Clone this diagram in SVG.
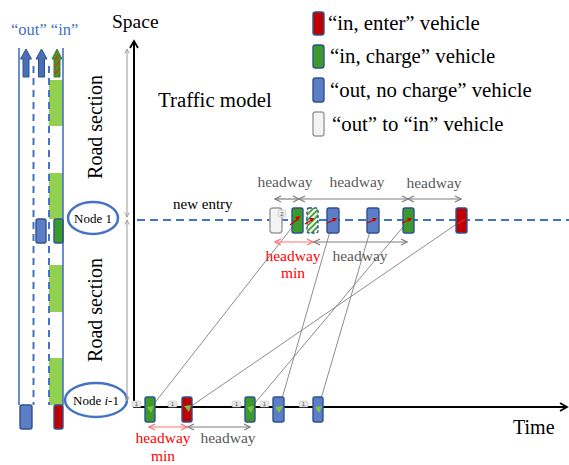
<svg xmlns="http://www.w3.org/2000/svg" width="569" height="465" viewBox="0 0 569 465">
<defs>
<style>
.t{font-family:"Liberation Serif","Times New Roman",serif;fill:#000}
.lane{stroke:#4472c4;stroke-width:1.6;fill:none}
.ldash{stroke:#4472c4;stroke-width:2;stroke-dasharray:7 5;fill:none}
.blk{fill:#92d050}
.veh{stroke:#2f528f;stroke-width:1.4}
.red{fill:#c00000}
.grn{fill:#3c9a2c}
.blu{fill:#5b7ec6}
.wht{fill:#f4f4f4;stroke:#9a9a9a;stroke-width:1.4}
.traj{stroke:#808080;stroke-width:0.9;fill:none}
.hw{stroke:#7f7f7f;stroke-width:1.2;fill:none;marker-start:url(#ag);marker-end:url(#ag)}
.hwr{stroke:#ff7070;stroke-width:1.2;fill:none;marker-start:url(#ar);marker-end:url(#ar)}
.gl{font-size:15.5px;fill:#595959}
.rl{font-size:15.5px;fill:#ff0000}
.tag{fill:#e8e8e8;stroke:#c0c0c0;stroke-width:0.5}
.tagt{font-family:"Liberation Sans",Arial,sans-serif;font-size:6px;fill:#555}
.node{fill:#fff;stroke:#4472c4;stroke-width:2.5}
.nt{font-size:13px}
.leg{font-size:20.8px}
.rm{stroke:#d00000;stroke-width:1.3;fill:none}
.gm{fill:#7cc242}
.arw{fill:#4a6fb5;stroke:#2f528f;stroke-width:1}
</style>
<marker id="ag" viewBox="0 0 8 8" refX="7" refY="4" markerWidth="8" markerHeight="8" markerUnits="userSpaceOnUse" orient="auto-start-reverse"><path d="M1,1 L7,4 L1,7" fill="none" stroke="#7f7f7f" stroke-width="1.2"/></marker>
<marker id="ar" viewBox="0 0 8 8" refX="7" refY="4" markerWidth="8" markerHeight="8" markerUnits="userSpaceOnUse" orient="auto-start-reverse"><path d="M1,1 L7,4 L1,7" fill="none" stroke="#ff7070" stroke-width="1.2"/></marker>
<marker id="ak" viewBox="0 0 10 10" refX="8" refY="5" markerWidth="10" markerHeight="10" markerUnits="userSpaceOnUse" orient="auto"><path d="M1,1 L8,5 L1,9" fill="none" stroke="#000" stroke-width="1.8"/></marker>
<marker id="agy" viewBox="0 0 8 8" refX="7" refY="4" markerWidth="6" markerHeight="6" markerUnits="userSpaceOnUse" orient="auto-start-reverse"><path d="M1,1 L7,4 L1,7" fill="none" stroke="#999" stroke-width="1.2"/></marker>
<pattern id="hatchR" patternUnits="userSpaceOnUse" width="5" height="5" patternTransform="rotate(45)"><rect width="5" height="5" fill="#3c9a2c"/><rect width="1.6" height="5" fill="#e03020"/></pattern>
<pattern id="hatchG" patternUnits="userSpaceOnUse" width="4" height="4" patternTransform="rotate(45)"><rect width="4" height="4" fill="#fff"/><rect width="2" height="4" fill="#4aa63a"/></pattern>
</defs>
<rect width="569" height="465" fill="#fff"/>

<!-- left road strip -->
<g id="road">
<text class="t" x="11" y="35" font-size="16.5" style="fill:#4472c4">“out” “in”</text>
<rect class="blk" x="49" y="80" width="14" height="46"/>
<rect class="blk" x="49" y="173" width="14" height="46"/>
<rect class="blk" x="49" y="265" width="14" height="47"/>
<rect class="blk" x="49" y="358" width="14" height="47"/>
<line class="lane" x1="19" y1="48" x2="19" y2="405"/>
<line class="lane" x1="63" y1="48" x2="63" y2="405"/>
<line class="ldash" x1="33.5" y1="66" x2="33.5" y2="405"/>
<line class="ldash" x1="49" y1="66" x2="49" y2="405"/>
<path class="arw" d="M26,49 L31.5,59 L29,59 L29,77 L23,77 L23,59 L20.5,59 Z"/>
<path class="arw" d="M41.5,49 L47,59 L44.5,59 L44.5,77 L38.5,77 L38.5,59 L36,59 Z"/>
<path d="M57,49 L62,59 L60,59 L60,77 L54,77 L54,59 L52,59 Z" fill="url(#hatchR)" stroke="#2e8a22" stroke-width="1"/>
<rect class="veh blu" x="36" y="219" width="10" height="24" rx="2"/>
<rect class="veh grn" x="54" y="219" width="9" height="24" rx="2"/>
<rect class="veh blu" x="20" y="405" width="12" height="24" rx="2"/>
<rect class="veh red" x="54" y="405" width="9" height="24" rx="2"/>
<text class="t" font-size="20" transform="translate(102,127) rotate(-90)" text-anchor="middle">Road section</text>
<text class="t" font-size="20" transform="translate(102,310) rotate(-90)" text-anchor="middle">Road section</text>
</g>

<g id="node1">
<ellipse class="node" cx="93" cy="218" rx="25" ry="16"/>
<text class="t nt" x="93" y="222.5" text-anchor="middle">Node 1</text>
</g>
<g id="nodei1">
<ellipse class="node" cx="96" cy="400" rx="31" ry="17"/>
<text class="t nt" x="96" y="404.5" text-anchor="middle">Node <tspan font-style="italic">i</tspan>-1</text>
</g>

<!-- axes -->
<g id="axes">
<line x1="127" y1="49" x2="127" y2="217" stroke="#999" stroke-width="1" marker-start="url(#agy)" marker-end="url(#agy)"/>
<line x1="127" y1="220" x2="127" y2="401" stroke="#999" stroke-width="1" marker-start="url(#agy)" marker-end="url(#agy)"/>
<line x1="134" y1="408" x2="134" y2="41" stroke="#000" stroke-width="2" marker-end="url(#ak)"/>
<line x1="133" y1="407" x2="567" y2="407" stroke="#000" stroke-width="2" marker-end="url(#ak)"/>
<text class="t" x="112" y="28" font-size="19.5">Space</text>
<text class="t" x="513" y="434" font-size="20">Time</text>
<text class="t" x="158" y="107" font-size="20.8">Traffic model</text>
<line x1="137" y1="220" x2="569" y2="220" stroke="#4472c4" stroke-width="2" stroke-dasharray="8 5"/>
<text class="t" x="173" y="209" font-size="15">new entry</text>
</g>

<!-- legend -->
<g id="legend">
<rect class="veh red" x="313" y="12" width="11" height="23" rx="2.5"/>
<text class="t leg" x="328" y="30">“in, enter” vehicle</text>
<rect class="veh grn" x="313" y="45" width="11" height="23" rx="2.5"/>
<text class="t leg" x="330" y="63">“in, charge” vehicle</text>
<rect class="veh blu" x="313" y="78" width="11" height="24" rx="2.5"/>
<text class="t leg" x="330" y="97">“out, no charge” vehicle</text>
<rect class="wht" x="313" y="112" width="11" height="24" rx="2.5"/>
<text class="t leg" x="332" y="131">“out” to “in” vehicle</text>
</g>

<!-- connectors -->
<g id="connectors">
<line class="traj" x1="150" y1="409" x2="297" y2="221"/>
<line class="traj" x1="187" y1="409" x2="461" y2="221"/>
<line class="traj" x1="250" y1="409" x2="408" y2="221"/>
<line class="traj" x1="279" y1="409" x2="333" y2="221"/>
<line class="traj" x1="318" y1="409" x2="373" y2="221"/>
<line class="hw" x1="275" y1="199" x2="299" y2="199"/>
<line class="hw" x1="299" y1="199" x2="408" y2="199"/>
<line class="hw" x1="408" y1="199" x2="461" y2="199"/>
<line class="hwr" x1="275" y1="242" x2="313" y2="242"/>
<line class="hw" x1="314" y1="242" x2="407" y2="242"/>
<line class="hwr" x1="149" y1="427" x2="187" y2="427"/>
<line class="hw" x1="188" y1="427" x2="250" y2="427"/>
<text class="t gl" x="285" y="187" text-anchor="middle">headway</text>
<text class="t gl" x="357" y="187" text-anchor="middle">headway</text>
<text class="t gl" x="434" y="188" text-anchor="middle">headway</text>
<text class="t rl" x="293" y="261" text-anchor="middle">headway</text>
<text class="t rl" x="293" y="278" text-anchor="middle">min</text>
<text class="t gl" x="360" y="261" text-anchor="middle">headway</text>
<text class="t rl" x="163" y="443" text-anchor="middle">headway</text>
<text class="t rl" x="163" y="461" text-anchor="middle">min</text>
<text class="t gl" x="228" y="443" text-anchor="middle">headway</text>
</g>

<!-- top row vehicles at Node 1 -->
<g id="v-top-out2in">
<rect class="wht" x="270" y="208" width="12" height="25" rx="3"/>
<rect class="tag" x="278" y="210" width="8" height="7" rx="1"/>
<text class="tagt" x="282" y="215.5" text-anchor="middle">2</text>
</g>
<g id="v-top-green1"><rect class="veh grn" x="292" y="208" width="11" height="25" rx="2"/><path class="rm" d="M290,225 L299,218"/><path d="M300,216 L295,217 L298,221 Z" fill="#d00000"/></g>
<g id="v-top-hatched"><rect x="307" y="208" width="11" height="25" rx="2" fill="url(#hatchG)" stroke="#2f528f" stroke-width="1.4" stroke-dasharray="3 2"/><path class="rm" d="M305,224 L313,219"/><path d="M314,218 L309,218 L312,222 Z" fill="#d00000"/></g>
<g id="v-top-blue1"><rect class="veh blu" x="327" y="208" width="12" height="25" rx="2"/><path class="rm" d="M327,223 L336,219"/><path d="M337,218 L332,218 L334,222 Z" fill="#d00000"/></g>
<g id="v-top-blue2"><rect class="veh blu" x="367" y="208" width="12" height="25" rx="2"/><path class="rm" d="M367,223 L376,219"/><path d="M377,218 L372,218 L374,222 Z" fill="#d00000"/></g>
<g id="v-top-green2"><rect class="veh grn" x="403" y="208" width="11" height="25" rx="2"/><path class="rm" d="M402,223 L411,219"/><path d="M412,218 L407,218 L409,222 Z" fill="#d00000"/></g>
<g id="v-top-red"><rect class="veh red" x="456" y="208" width="11" height="25" rx="2"/><path d="M458,224 L465,219" stroke="#e04040" stroke-width="1" fill="none"/></g>

<!-- bottom row vehicles at Node i-1 -->
<g id="v-bot-green1"><rect class="tag" x="132" y="401" width="9" height="6" rx="1"/><text class="tagt" x="136.5" y="406" text-anchor="middle">1</text><rect class="veh grn" x="145" y="397" width="10" height="25" rx="2"/><path class="gm" d="M147,407 L154,406 L151,413 Z"/></g>
<g id="v-bot-red"><rect class="tag" x="168" y="401" width="9" height="6" rx="1"/><text class="tagt" x="172.5" y="406" text-anchor="middle">1</text><rect class="veh red" x="182" y="397" width="10" height="25" rx="2"/><path class="gm" d="M184,406 L191,405 L189,412 Z"/></g>
<g id="v-bot-green2"><rect class="tag" x="232" y="401" width="9" height="6" rx="1"/><text class="tagt" x="236.5" y="406" text-anchor="middle">1</text><rect class="veh grn" x="245" y="397" width="10" height="25" rx="2"/><path class="gm" d="M247,407 L254,406 L251,413 Z"/></g>
<g id="v-bot-blue1"><rect class="tag" x="260" y="401" width="9" height="6" rx="1"/><text class="tagt" x="264.5" y="406" text-anchor="middle">1</text><rect class="veh blu" x="273" y="397" width="11" height="25" rx="2"/><path class="gm" d="M275,407 L283,406 L279,413 Z"/></g>
<g id="v-bot-blue2"><rect class="tag" x="299" y="401" width="9" height="6" rx="1"/><text class="tagt" x="303.5" y="406" text-anchor="middle">1</text><rect class="veh blu" x="313" y="397" width="10" height="25" rx="2"/><path class="gm" d="M315,407 L322,406 L319,413 Z"/></g>
</svg>
